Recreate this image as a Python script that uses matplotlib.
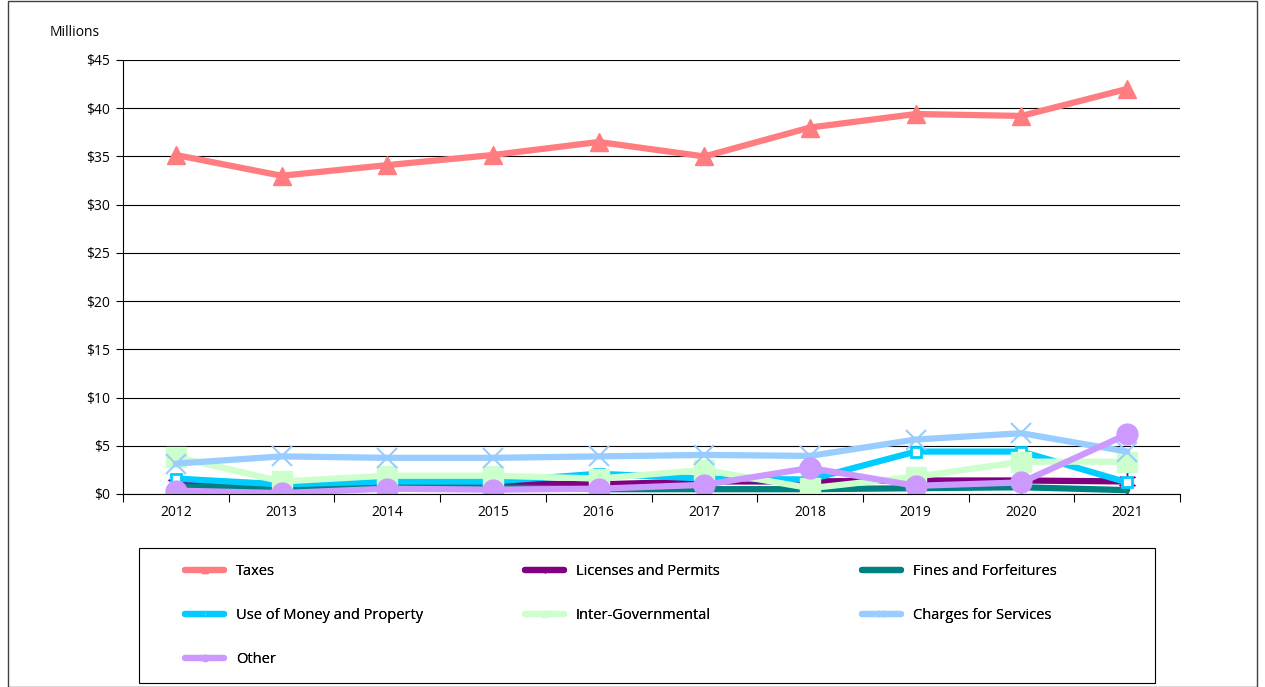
import numpy as np
import matplotlib.pyplot as plt
from matplotlib.patches import Rectangle

plt.rcParams['font.family'] = ['Open Sans', 'DejaVu Sans']

years = ['2012', '2013', '2014', '2015', '2016', '2017', '2018', '2019', '2020', '2021']

taxes = [35.15, 33.0, 34.1, 35.15, 36.5, 35.0, 38.0, 39.4, 39.2, 42.0]
licenses = [1.0, 0.7, 1.2, 1.1, 1.0, 1.3, 1.3, 1.4, 1.4, 1.3]
fines = [0.8, 0.6, 0.8, 0.7, 0.5, 0.5, 0.5, 0.6, 0.7, 0.4]
use_money = [1.6, 1.0, 1.3, 1.3, 2.1, 1.6, 1.5, 4.4, 4.4, 1.2]
inter_gov = [3.85, 1.3, 1.9, 1.9, 1.6, 2.5, 0.6, 1.8, 3.35, 3.35]
charges = [3.15, 3.9, 3.75, 3.75, 3.9, 4.05, 3.95, 5.65, 6.3, 4.4]
other = [0.35, 0.1, 0.55, 0.45, 0.55, 0.95, 2.7, 0.85, 1.2, 6.2]

series = [
    ('Taxes', taxes, '#FF7C80', '^', 13, 1),
    ('Licenses and Permits', licenses, '#800080', (6, 2, 0), 13, 1),
    ('Fines and Forfeitures', fines, '#008080', '|', 8, 2),
    ('Use of Money and Property', use_money, '#00CCFF', 's', 7, 1),
    ('Inter-Governmental', inter_gov, '#CCFFCC', 's', 14, 1),
    ('Charges for Services', charges, '#99CCFF', 'x', 14, 1.5),
    ('Other', other, '#CC99FF', 'o', 15, 1),
]

W, H = 1265, 687
fig = plt.figure(figsize=(W/100, H/100), dpi=100)
ax = fig.add_axes([123/W, 1-494/H, (1180-123)/W, (494-60)/H])

x = np.arange(len(years))
handles = {}
for name, vals, col, mk, ms, mew in series:
    if name == 'Use of Money and Property':
        h, = ax.plot(x, vals, color=col, lw=4.5, marker=mk, ms=ms, mfc='white',
                     mec=col, mew=2, label=name, solid_capstyle='round')
    else:
        h, = ax.plot(x, vals, color=col, lw=4.5, marker=mk, ms=ms, mfc=col,
                     mec=col, mew=mew, label=name, solid_capstyle='round')
    handles[name] = h

ax.set_xlim(-0.5, 9.5)
ax.set_ylim(0, 45)
ax.set_yticks(np.arange(0, 46, 5))
ax.set_yticklabels(['$%d' % v for v in range(0, 46, 5)])
ax.yaxis.grid(True, color='black', lw=0.8)
ax.set_axisbelow(True)
ax.set_xticks(x)
ax.set_xticklabels(years)
ax.set_xticks(np.arange(-0.5, 10, 1), minor=True)
ax.tick_params(axis='x', which='major', length=0, pad=8, labelsize=10)
ax.tick_params(axis='x', which='minor', length=6, width=0.8, direction='out')
ax.tick_params(axis='y', length=5, width=0.8, labelsize=10, pad=4)
for s in ['top', 'right']:
    ax.spines[s].set_visible(False)
ax.spines['left'].set_linewidth(0.8)
ax.spines['bottom'].set_linewidth(0.8)

fig.text(50/W, 1-33/H, 'Millions', fontsize=10, va='center', ha='left')

# legend: box drawn by hand, one frameless legend per column
fig.patches.append(Rectangle((139/W, 1-683/H), (1155-139)/W, (683-548)/H,
                             transform=fig.transFigure, fill=False,
                             edgecolor='black', lw=0.8))
columns = [
    (185, ['Taxes', 'Use of Money and Property', 'Other']),
    (525, ['Licenses and Permits', 'Inter-Governmental']),
    (862, ['Fines and Forfeitures', 'Charges for Services']),
]
for cx, names in columns:
    lg = fig.legend(handles=[handles[n] for n in names], loc='upper left',
                    bbox_to_anchor=(cx/W, 1-564/H), frameon=False,
                    fontsize=10.5, markerscale=0.3, handlelength=2.7,
                    handletextpad=0.8, labelspacing=1.98, borderpad=0,
                    borderaxespad=0)
    fig.add_artist(lg)

fig.patches.append(Rectangle((8/W, 0), 1-16/W, 1-1/H, transform=fig.transFigure,
                             fill=False, edgecolor='#404040', lw=1))

fig.savefig('out.png', dpi=100)
